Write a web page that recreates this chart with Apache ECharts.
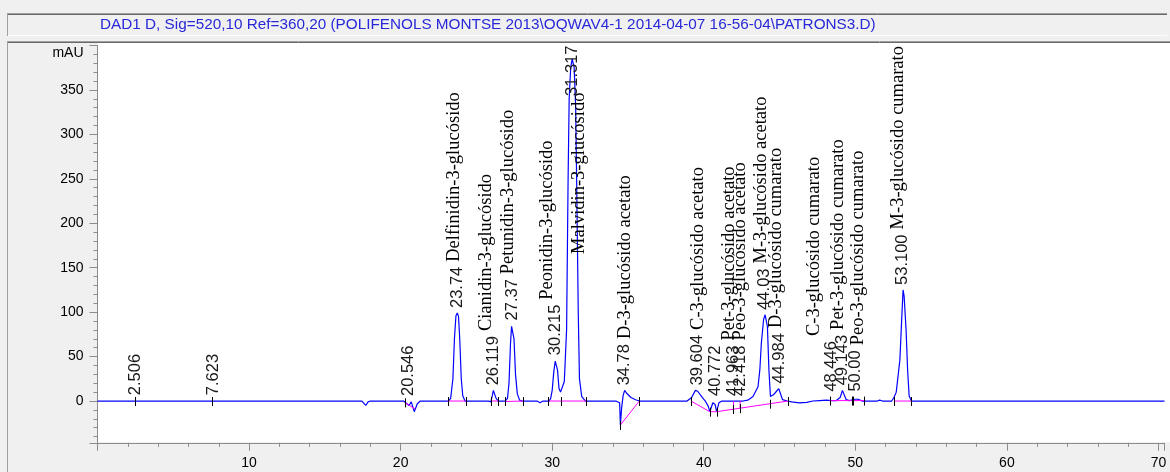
<!DOCTYPE html>
<html><head><meta charset="utf-8">
<script src="https://cdn.jsdelivr.net/npm/echarts@6/dist/echarts.min.js"></script>
<style>html,body{margin:0;padding:0;background:#f0f0f0;}#c{width:1170px;height:472px;}</style>
</head><body><div id="c"></div>
<script>
// ---------- data ----------
const titleText = 'DAD1 D, Sig=520,10 Ref=360,20 (POLIFENOLS MONTSE 2013\\OQWAV4-1 2014-04-07 16-56-04\\PATRONS3.D)';
const yUnit = 'mAU';

// chromatogram trace (min, mAU)
const sigTime = [0,2.4,2.5,2.6,7.55,7.62,7.7,17.45,17.7,17.85,18.0,
  20.2,20.3,20.55,20.7,20.9,21.1,21.3,
  23.15,23.3,23.45,23.55,23.65,23.74,23.82,23.9,24.0,24.1,24.25,
  25.8,25.95,26.05,26.12,26.2,26.3,26.45,
  26.9,27.05,27.15,27.25,27.32,27.4,27.48,27.58,27.7,27.85,28.0,
  29.0,29.2,29.4,
  29.8,29.9,30.0,30.1,30.2,30.27,30.35,30.45,30.55,30.65,30.8,30.95,31.05,31.12,31.22,31.32,31.45,31.55,31.62,31.72,31.8,31.95,32.2,
  34.2,34.3,34.45,34.5,34.58,34.68,34.78,34.9,35.0,35.2,35.5,35.75,
  38.9,39.2,39.45,39.6,39.9,40.1,40.3,40.4,40.6,40.75,40.85,41.0,41.2,
  42.6,42.9,43.25,43.58,43.7,43.8,43.95,44.05,44.2,44.3,44.4,44.6,44.8,44.95,45.05,45.2,45.5,
  45.8,46.3,46.8,47.2,47.65,48.1,48.4,48.75,49.0,49.15,49.25,49.4,49.6,49.97,50.2,50.45,
  51.45,51.6,51.8,
  52.4,52.55,52.7,52.94,53.05,53.15,53.22,53.35,53.45,53.55,53.7,70.4];
const sigValue = [0,0,-2,0,0,-1.5,0,0,-5,-1,0,
  0,-1.5,-5,-1,-12,-3,0,
  0,3,25,70,96,99,95,70,25,6,0,
  0,-1,6,12,10,3,0,
  0,3,20,65,84,85,70,30,8,1,0,
  0,-2,0,
  0,3,12,32,45,46,35,14,10,12,22,80,250,340,375,385,375,330,240,100,25,5,0,
  0,-1.5,-2,-27,-8,6,12,9,7,4,1.5,0,
  0,4,12,11,4,0,-6,-12,-2,-4,-12,-2,0,
  0,1,5,16,35,65,92,97,84,35,5,7,11,14,12,1.5,0,
  -1,-2,-1.5,0,0.5,1,0.5,0.5,4,12,11,1.5,0.5,2,2,0,
  0,1,0,
  0,4,10,46,88,125,118,80,35,6,0,0];

// integrated peaks
const peakLabel = ['2.506','7.623','20.546','23.74','26.119','27.37','30.215','31.317','34.78','39.604','40.772','41.963','42.418','44.03','44.984','48.446','49.143','50.00','53.100'];
const peakTime  = [2.506,7.623,20.546,23.74,26.119,27.37,30.215,31.317,34.78,39.604,40.772,41.963,42.418,44.03,44.984,48.446,49.143,50.00,53.100];
const peakApex  = [1,1,0,99,12,85,46,385,12,12,0,0,0,97,14,5,12,5,125];
const compoundName = [null,null,null,'Delfinidin-3-glucósido','Cianidin-3-glucósido','Petunidin-3-glucósido','Peonidin-3-glucósido','Malvidin-3-glucósido','D-3-glucósido acetato','C-3-glucósido acetato',null,'Pet-3-glucósido acetato','Peo-3-glucósido acetato','M-3-glucósido acetato','D-3-glucósido cumarato','C-3-glucósido cumarato','Pet-3-glucósido cumarato','Peo-3-glucósido cumarato','M-3-glucósido cumarato'];
const compoundTime = [null,null,null,23.5,25.65,27.07,29.65,31.8,34.8,39.6,null,41.7,42.4,43.8,44.8,47.3,48.85,50.2,52.8];

// integration baselines [t0, v0, t1, v1]
const baselineSeg = [[20.26,-1.5,20.95,-9],[23.1,0,24.3,0],[25.95,0,26.45,0],[26.9,-0.5,28.1,0],[29.75,0,32.25,0],[34.5,-27,35.75,0],
  [39.15,0,40.4,-12],[40.4,-12,40.85,-12],[40.85,-12,45.55,0],[41.96,0,41.96,-9],[42.4,0,42.4,-8],
  [48.3,0.5,49.75,0.5],[49.85,0.5,50.6,0.5],[52.55,0,53.7,0]];
// peak start / end marks
const peakMarks = [[2.45,0],[7.58,0],[20.26,-1.5],[23.1,0],[24.3,0],[25.95,0],[26.45,0],[26.9,0],[28.1,0],[29.75,0],[30.55,0],[32.25,0],
  [34.5,-27],[35.75,0],[39.15,0],[40.4,-12],[40.85,-12],[41.96,-9],[42.4,-8],[44.4,-3],[45.55,0],[48.3,0.5],[49.75,0.5],[49.85,0.5],[50.6,0.5],[52.55,0],[53.7,0]];

// ---------- chart ----------
const rtFont = '16.5px "Liberation Sans"';
const nameFont = '18.5px "Liberation Serif"';
const mctx = document.createElement('canvas').getContext('2d');
function textW(t, f){ mctx.font = f; return mctx.measureText(t).width; }

const chart = echarts.init(document.getElementById('c'), null, {renderer:'canvas', width:1170, height:472});
const GRAY = '#8c8c8c';
chart.setOption({
  animation:false,
  backgroundColor:'#f0f0f0',
  graphic:[
    {type:'rect', z:-10, shape:{x:98, y:43, width:1072, height:399}, style:{fill:'#ffffff'}},
    {type:'line', shape:{x1:8, y1:13.5, x2:1167, y2:13.5}, style:{stroke:'#a0a0a0', lineWidth:1}},
    {type:'line', shape:{x1:8, y1:14.5, x2:1167, y2:14.5}, style:{stroke:'#696969', lineWidth:1}},
    {type:'line', shape:{x1:8, y1:35.5, x2:1167, y2:35.5}, style:{stroke:'#ffffff', lineWidth:1}},
    {type:'line', shape:{x1:7.5, y1:13, x2:7.5, y2:36}, style:{stroke:'#a0a0a0', lineWidth:1}},
    {type:'line', shape:{x1:8, y1:41.5, x2:1170, y2:41.5}, style:{stroke:'#a0a0a0', lineWidth:1}},
    {type:'line', shape:{x1:8, y1:42.5, x2:1170, y2:42.5}, style:{stroke:'#696969', lineWidth:1}},
    {type:'line', shape:{x1:7.5, y1:41, x2:7.5, y2:472}, style:{stroke:'#a0a0a0', lineWidth:1}},
    {type:'text', x:100, y:25, style:{text:titleText, fill:'#2828d8', font:'15.3px "Liberation Sans"', verticalAlign:'middle'}}
  ],
  grid:{left:97.5, right:5.5, top:45.5, bottom:29.2, containLabel:false},
  xAxis:{type:'value', min:0, max:70.4, interval:10,
    axisLine:{show:true, onZero:false, lineStyle:{color:GRAY}},
    axisTick:{show:true, length:8, lineStyle:{color:GRAY}},
    minorTick:{show:true, splitNumber:5, length:4, lineStyle:{color:GRAY}},
    splitLine:{show:false},
    axisLabel:{showMinLabel:false, showMaxLabel:false, color:'#000', fontSize:14, fontFamily:'Liberation Sans', margin:13}},
  yAxis:{type:'value', min:-47, max:400, splitNumber:9,
    axisLine:{show:true, onZero:false, lineStyle:{color:GRAY}},
    axisTick:{show:true, length:8, lineStyle:{color:GRAY}},
    minorTick:{show:true, splitNumber:5, length:4, lineStyle:{color:GRAY}},
    splitLine:{show:false},
    axisLabel:{showMinLabel:false, color:'#000', fontSize:14, fontFamily:'Liberation Sans', margin:14,
      formatter:v => v === 400 ? '{u|' + yUnit + '}' : String(v),
      rich:{u:{fontSize:14, fontFamily:'Liberation Sans', color:'#000', padding:[15,0,0,0]}}}},
  series:[
    {type:'line', data:sigTime.map((t,i)=>[t, sigValue[i]]), showSymbol:false, symbol:'none',
     lineStyle:{color:'#0000ff', width:1.2}, z:2, silent:true},
    {type:'custom', z:3, silent:true,
     data:baselineSeg, encode:{x:[0,2], y:[1,3]},
     renderItem:(params, api)=>{
       const a = api.coord([api.value(0), api.value(1)]);
       const b = api.coord([api.value(2), api.value(3)]);
       return {type:'line', shape:{x1:a[0], y1:a[1], x2:b[0], y2:b[1]}, style:{stroke:'#ff00ff', lineWidth:1}};
     }},
    {type:'custom', z:4, silent:true,
     data:peakMarks, encode:{x:0, y:1},
     renderItem:(params, api)=>{
       const p = api.coord([api.value(0), api.value(1)]);
       const x = Math.round(p[0]) + 0.5;
       return {type:'line', shape:{x1:x, y1:p[1]-4, x2:x, y2:p[1]+5}, style:{stroke:'#000', lineWidth:1}};
     }},
    {type:'custom', z:5, silent:true, clip:false,
     data:peakTime.map((t,i)=>[t, Math.max(peakApex[i],0), i]), encode:{x:0, y:1},
     renderItem:(params, api)=>{
       const i = api.value(2);
       const p = api.coord([api.value(0), api.value(1)]);
       const gridTop = params.coordSys.y;
       const w = textW(peakLabel[i], rtFont);
       let bottom = p[1] - 5, top = bottom - w, clamped = false;
       if (top < gridTop) { top = gridTop; bottom = top + w; clamped = true; }
       const children = [{type:'text', x:p[0], y:bottom, rotation:Math.PI/2,
         style:{text:peakLabel[i], font:rtFont, fill:'#1a1a1a', align:'left', verticalAlign:'middle'}}];
       if (compoundName[i]) {
         const nx = api.coord([compoundTime[i], 0])[0];
         const nb = clamped ? api.coord([0, peakApex[i]*0.43])[1] : top - 5;
         children.push({type:'text', x:nx, y:nb, rotation:Math.PI/2,
           style:{text:compoundName[i], font:nameFont, fill:'#000', align:'left', verticalAlign:'middle'}});
       }
       return {type:'group', children};
     }}
  ]
});
</script></body></html>
